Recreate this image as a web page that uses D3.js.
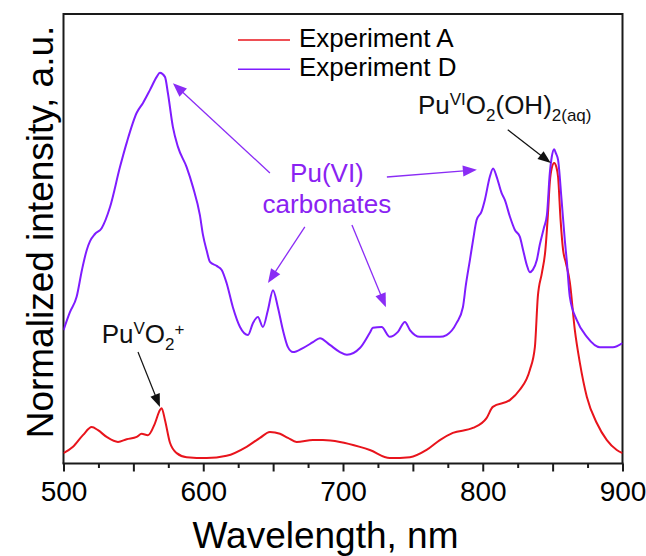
<!DOCTYPE html>
<html>
<head>
<meta charset="utf-8">
<script src="https://cdn.jsdelivr.net/npm/d3@7"></script>
<style>
  html, body { margin: 0; padding: 0; background: #fff; }
  svg { display: block; font-family: "Liberation Sans", Arial, Helvetica, sans-serif; }
</style>
</head>
<body>
<svg id="chart" width="646" height="556"></svg>
<script>
// Emission spectra (normalized intensity vs wavelength, nm)
const wavelengthA = [500, 506.8, 513.9, 520.2, 524.7, 530.9, 539.0, 545.2, 552.4, 555.9, 560.4, 565.5, 569.0, 570.2, 572.6, 576.2, 581.0, 588.1, 602.4, 616.7, 631.0, 640.6, 647.7, 654.9, 660.6, 666.8, 678.5, 685.6, 697.8, 712.1, 719.2, 733.5, 747.9, 759.8, 769.3, 778.6, 792.9, 802.7, 807.2, 819.4, 826.5, 833.7, 837.3, 839.4, 842.3, 844.8, 846.6, 848.0, 849.4, 851.1, 852.7, 853.9, 855.7, 857.5, 859.4, 862.3, 865.9, 869.5, 874.5, 881.6, 888.8, 895.9, 900];
const intensityA  = [0.022, 0.036, 0.062, 0.080, 0.073, 0.058, 0.047, 0.053, 0.058, 0.065, 0.062, 0.089, 0.118, 0.122, 0.096, 0.045, 0.022, 0.013, 0.011, 0.016, 0.036, 0.056, 0.069, 0.065, 0.056, 0.047, 0.051, 0.051, 0.047, 0.036, 0.029, 0.011, 0.013, 0.029, 0.051, 0.067, 0.078, 0.100, 0.125, 0.140, 0.163, 0.207, 0.258, 0.370, 0.423, 0.474, 0.552, 0.626, 0.657, 0.668, 0.659, 0.637, 0.541, 0.474, 0.447, 0.403, 0.296, 0.223, 0.147, 0.089, 0.051, 0.029, 0.022];

const wavelengthD = [500, 504.6, 509.4, 513.2, 516.6, 519.0, 522.5, 527.3, 533.3, 540.4, 545.2, 552.4, 556.9, 561.9, 566.7, 569.0, 572.6, 574.7, 578.3, 581.9, 588.1, 592.6, 597.6, 599.8, 602.4, 604.8, 609.6, 613.2, 616.7, 621.2, 626.3, 632.0, 635.6, 639.1, 642.7, 646.3, 649.9, 653.4, 657.0, 660.6, 664.2, 671.3, 678.5, 683.5, 690.6, 697.8, 702.8, 712.1, 719.2, 721.4, 727.6, 733.5, 739.3, 744.3, 747.9, 755.0, 769.3, 774.1, 781.3, 785.8, 787.9, 790.8, 793.1, 795.6, 799.1, 801.5, 805.1, 807.4, 809.9, 813.5, 815.8, 819.4, 823.0, 826.5, 828.9, 831.5, 833.7, 835.8, 838.7, 840.8, 843.7, 845.9, 848.0, 849.4, 851.1, 852.3, 853.9, 856.4, 858.7, 860.2, 862.3, 867.3, 874.5, 883.8, 893.1, 900];
const intensityD  = [0.296, 0.336, 0.370, 0.430, 0.474, 0.494, 0.510, 0.523, 0.570, 0.659, 0.713, 0.780, 0.802, 0.831, 0.860, 0.869, 0.860, 0.824, 0.748, 0.704, 0.659, 0.615, 0.552, 0.508, 0.474, 0.448, 0.439, 0.430, 0.401, 0.347, 0.303, 0.285, 0.312, 0.325, 0.303, 0.341, 0.385, 0.347, 0.296, 0.258, 0.247, 0.256, 0.269, 0.278, 0.263, 0.247, 0.241, 0.256, 0.290, 0.301, 0.303, 0.281, 0.292, 0.314, 0.296, 0.281, 0.281, 0.285, 0.312, 0.347, 0.396, 0.452, 0.497, 0.541, 0.560, 0.586, 0.638, 0.656, 0.638, 0.601, 0.586, 0.549, 0.519, 0.504, 0.474, 0.441, 0.425, 0.430, 0.452, 0.486, 0.523, 0.552, 0.646, 0.682, 0.699, 0.690, 0.675, 0.586, 0.497, 0.448, 0.370, 0.318, 0.281, 0.258, 0.258, 0.267];

const seriesNames  = ["Experiment A", "Experiment D"];
const seriesColors = ["#e8141c", "#7f1cff"];
const majorTicks   = [500, 550, 600, 650, 700, 750, 800, 850, 900];
const minorTicks   = [525, 575, 625, 675, 725, 775, 825, 875];
const tickLabels   = [500, 600, 700, 800, 900];

// Callout arrows: [fromWavelength, fromIntensity, toWavelength, toIntensity]
const carbonateArrows = [
  [647.7, 0.646, 578.3, 0.846],
  [731.4, 0.637, 795.8, 0.653],
  [672.7, 0.526, 646.3, 0.401],
  [706.4, 0.530, 730.7, 0.347]
];
const speciesArrows = [
  [553.3, 0.247, 569.0, 0.125],
  [817.9, 0.742, 848.7, 0.668]
];

const svg = d3.select("#chart");
const plotL = 63.5, plotR = 622.5, plotT = 14, plotB = 463.5;

const x = d3.scaleLinear().domain([500, 900]).range([plotL, plotR]);
const y = d3.scaleLinear().domain([0, 1]).range([463, plotT]);

const ink = "#1a1a1a";

// plot frame (left / top / right)
svg.append("path")
  .attr("d", `M${plotL},${plotB} V${plotT} H${plotR} V${plotB}`)
  .attr("fill", "none").attr("stroke", ink).attr("stroke-width", 2);

// bottom axis: major ticks every 50, labels every 100, minor ticks every 25
const xAxis = d3.axisBottom(x)
  .tickValues(majorTicks)
  .tickSize(8)
  .tickPadding(9.5)
  .tickFormat(d => tickLabels.includes(d) ? d : "");
const gx = svg.append("g").attr("transform", `translate(0,${plotB})`).call(xAxis);
gx.select(".domain").attr("stroke", ink).attr("stroke-width", 2)
  .attr("d", `M${plotL - 1},0H${plotR + 1}`);
gx.selectAll(".tick line").attr("stroke", ink).attr("stroke-width", 2);
gx.selectAll(".tick text").attr("fill", "#000").attr("font-size", 28)
  .attr("font-family", "Liberation Sans, Arial, sans-serif");

const xMinor = d3.axisBottom(x).tickValues(minorTicks).tickSize(4.5).tickFormat("");
const gm = svg.append("g").attr("transform", `translate(0,${plotB})`).call(xMinor);
gm.select(".domain").remove();
gm.selectAll(".tick line").attr("stroke", ink).attr("stroke-width", 2);

// axis titles
svg.append("text")
  .attr("x", 325.5).attr("y", 548).attr("text-anchor", "middle")
  .attr("font-size", 37).attr("fill", "#000")
  .text("Wavelength, nm");
svg.append("text")
  .attr("transform", "translate(53,232) rotate(-90)")
  .attr("text-anchor", "middle")
  .attr("font-size", 37).attr("fill", "#000")
  .text("Normalized intensity, a.u.");

// spectra
const series = [
  { name: seriesNames[0], color: seriesColors[0], pts: d3.zip(wavelengthA, intensityA) },
  { name: seriesNames[1], color: seriesColors[1], pts: d3.zip(wavelengthD, intensityD) }
];
const line = d3.line().x(d => x(d[0])).y(d => y(d[1])).curve(d3.curveMonotoneX);

svg.append("defs").append("clipPath").attr("id", "plotClip")
  .append("rect").attr("x", plotL).attr("y", plotT).attr("width", plotR - plotL).attr("height", plotB - plotT);

svg.append("g").attr("clip-path", "url(#plotClip)")
  .selectAll("path").data(series).join("path")
  .attr("d", d => line(d.pts))
  .attr("fill", "none")
  .attr("stroke", d => d.color)
  .attr("stroke-width", 2)
  .attr("stroke-linejoin", "round");

// legend
const legend = svg.append("g");
series.forEach((s, i) => {
  const ly = 40 + i * 29.3;
  legend.append("line")
    .attr("x1", 238).attr("x2", 290).attr("y1", ly).attr("y2", ly)
    .attr("stroke", s.color).attr("stroke-width", 1.6);
  legend.append("text")
    .attr("x", 299).attr("y", ly + 6.5)
    .attr("font-size", 26).attr("fill", "#000")
    .text(s.name);
});

// arrows with filled triangular heads
function arrow(a, color, width, headLen, headW) {
  const x0 = x(a[0]), y0 = y(a[1]), x1 = x(a[2]), y1 = y(a[3]);
  const dx = x1 - x0, dy = y1 - y0, L = Math.hypot(dx, dy);
  const ux = dx / L, uy = dy / L;
  const bx = x1 - ux * headLen, by = y1 - uy * headLen;
  svg.append("line")
    .attr("x1", x0).attr("y1", y0).attr("x2", bx + ux).attr("y2", by + uy)
    .attr("stroke", color).attr("stroke-width", width);
  svg.append("path")
    .attr("d", `M${x1},${y1} L${bx - uy * headW / 2},${by + ux * headW / 2} L${bx + uy * headW / 2},${by - ux * headW / 2} Z`)
    .attr("fill", color);
}
carbonateArrows.forEach(a => arrow(a, "#8a2cf5", 1.3, 14, 11));
speciesArrows.forEach(a => arrow(a, "#111", 1.2, 13, 10));

// annotations
const purpleText = "#8a22f2";
const carb = svg.append("text")
  .attr("x", x(688.5)).attr("y", y(0.626)).attr("text-anchor", "middle")
  .attr("font-size", 26).attr("fill", purpleText);
carb.append("tspan").attr("x", x(688.5)).text("Pu(VI)");
carb.append("tspan").attr("x", x(688.5)).attr("dy", 31).text("carbonates");

const pu5 = svg.append("text")
  .attr("x", x(527.3)).attr("y", y(0.268))
  .attr("font-size", 26).attr("fill", "#111");
pu5.append("tspan").text("Pu");
pu5.append("tspan").attr("font-size", 17).attr("dy", -9).text("V");
pu5.append("tspan").attr("dy", 9).text("O");
pu5.append("tspan").attr("font-size", 17).attr("dy", 7).text("2");
pu5.append("tspan").attr("font-size", 17).attr("dy", -15).text("+");

const pu6 = svg.append("text")
  .attr("x", x(753.6)).attr("y", y(0.777))
  .attr("font-size", 26).attr("fill", "#111");
pu6.append("tspan").text("Pu");
pu6.append("tspan").attr("font-size", 17).attr("dy", -9).text("VI");
pu6.append("tspan").attr("dy", 9).text("O");
pu6.append("tspan").attr("font-size", 17).attr("dy", 7).text("2");
pu6.append("tspan").attr("dy", -7).text("(OH)");
pu6.append("tspan").attr("font-size", 17).attr("dy", 7).text("2(aq)");
</script>
</body>
</html>
